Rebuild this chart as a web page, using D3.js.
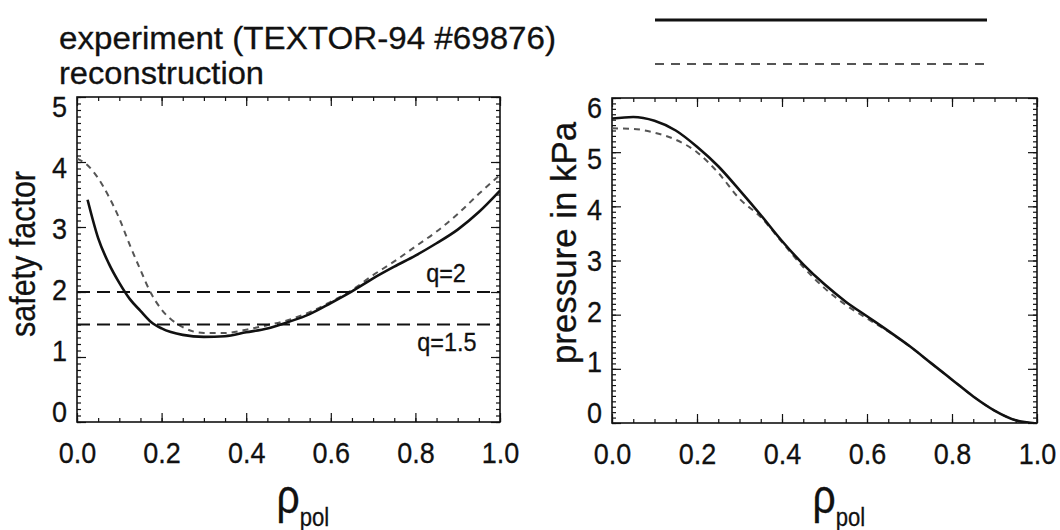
<!DOCTYPE html>
<html lang="en">
<head>
<meta charset="UTF-8">
<title>q and pressure profiles</title>
<script src="https://d3js.org/d3.v7.min.js"></script>
<style>
body { margin: 0; background: #fff; }
svg text { font-family: 'Liberation Sans', Arial, Helvetica, sans-serif; fill: #111; stroke: #111; stroke-width: 0.3px; }
.frame { fill: none; stroke: #111; stroke-width: 1.6px; }
.tick line { stroke: #111; stroke-width: 1.2px; }
.exp { fill: none; stroke: #111; stroke-width: 2.6px; }
.rec { fill: none; stroke: #555; stroke-width: 2px; stroke-dasharray: 6,5; }
.qline { stroke: #111; stroke-width: 2px; stroke-dasharray: 13,7; }
/* the original lettering is a narrow Helvetica */
.narrow-mid { transform-box: fill-box; transform-origin: 50% 50%; transform: scaleX(0.9); }
.narrow-end { transform-box: fill-box; transform-origin: 100% 50%; transform: scaleX(0.9); }
</style>
</head>
<body>
<svg width="1060" height="530"></svg>
<script>
// safety factor profile
var rhoQ = [0, .025, .05, .075, .1, .125, .15, .175, .2, .25, .3, .35, .4, .45, .5, .55, .6, .65, .7, .75, .8, .85, .9, .95, 1.0];
var qExp = [null, 3.42, 2.83, 2.44, 2.14, 1.89, 1.71, 1.54, 1.44, 1.34, 1.31, 1.32, 1.38, 1.44, 1.54, 1.66, 1.83, 2.01, 2.21, 2.39, 2.56, 2.75, 2.96, 3.23, 3.56];
var qRec = [4.05, 3.95, 3.75, 3.47, 3.13, 2.72, 2.34, 1.98, 1.73, 1.46, 1.37, 1.37, 1.42, 1.49, 1.57, 1.69, 1.85, 2.03, 2.26, 2.47, 2.70, 2.93, 3.20, 3.51, 3.80];
var qRef = [2, 1.5];
var qRefLabels = ["q=2", "q=1.5"];

// pressure profile (kPa)
var rhoP = [0, .05, .1, .15, .2, .25, .3, .35, .4, .45, .5, .55, .6, .65, .7, .75, .8, .85, .9, .95, 1.0];
var pExp = [5.62, 5.65, 5.58, 5.40, 5.10, 4.74, 4.30, 3.84, 3.36, 2.93, 2.56, 2.24, 1.97, 1.70, 1.42, 1.11, 0.80, 0.49, 0.23, 0.05, -0.01];
var pRec = [5.44, 5.43, 5.36, 5.23, 5.00, 4.62, 4.14, 3.80, 3.34, 2.88, 2.49, 2.18, 1.93, 1.69, 1.42, 1.11, 0.80, 0.49, 0.23, 0.05, -0.01];

var xTicks = [0, .2, .4, .6, .8, 1.0];
var legendLabels = ["experiment (TEXTOR-94 #69876)", "reconstruction"];

var svg = d3.select("svg");

// title + legend
svg.selectAll("text.legend")
    .data(legendLabels)
    .enter().append("text")
    .attr("class", "legend")
    .attr("x", 59)
    .attr("y", function(d, i) { return 49 + i * 35; })
    .attr("textLength", function(d, i) { return i === 0 ? 497 : 205; })
    .attr("lengthAdjust", "spacingAndGlyphs")
    .style("font-size", "31px")
    .text(function(d) { return d; });

svg.append("line").attr("class", "exp")
    .attr("x1", 655).attr("x2", 987).attr("y1", 20).attr("y2", 20)
    .style("stroke-width", "3px");
svg.append("line").attr("class", "rec")
    .attr("x1", 655).attr("x2", 987).attr("y1", 64).attr("y2", 64)
    .style("stroke-dasharray", "9,7");

function panel(box, yMax, yMinor, ylabel, rho, a, b) {
    var g = svg.append("g");
    var x = d3.scaleLinear().domain([0, 1]).range([box.x0, box.x1]);
    var y = d3.scaleLinear().domain([0, yMax]).range([box.y1, box.y0]);
    var midY = (box.y0 + box.y1) / 2;

    var clipId = "clip" + box.x0;
    g.append("clipPath").attr("id", clipId)
        .append("rect")
        .attr("x", box.x0).attr("y", box.y0)
        .attr("width", box.x1 - box.x0).attr("height", box.y1 - box.y0);

    var minorX = d3.range(0, 1.0001, 0.05);
    var minorY = d3.range(0, yMax + 0.0001, yMinor);
    var majorY = d3.range(0, yMax + 1);

    // minor ticks, all four sides
    g.append("g").attr("transform", "translate(0," + box.y1 + ")")
        .call(d3.axisBottom(x).tickValues(minorX).tickSize(-4).tickFormat(""));
    g.append("g").attr("transform", "translate(0," + box.y0 + ")")
        .call(d3.axisTop(x).tickValues(minorX).tickSize(-4).tickFormat(""));
    g.append("g").attr("transform", "translate(" + box.x0 + ",0)")
        .call(d3.axisLeft(y).tickValues(minorY).tickSize(-4).tickFormat(""));
    g.append("g").attr("transform", "translate(" + box.x1 + ",0)")
        .call(d3.axisRight(y).tickValues(minorY).tickSize(-4).tickFormat(""));

    // major ticks + labels
    g.append("g").attr("transform", "translate(0," + box.y1 + ")")
        .call(d3.axisBottom(x).tickValues(xTicks).tickSize(-9).tickPadding(20).tickFormat(d3.format(".1f")))
        .selectAll("text")
        .attr("class", "narrow-mid")
        .style("font-size", "30px");
    g.append("g").attr("transform", "translate(0," + box.y0 + ")")
        .call(d3.axisTop(x).tickValues(xTicks).tickSize(-9).tickFormat(""));
    var ya = g.append("g").attr("transform", "translate(" + box.x0 + ",0)")
        .call(d3.axisLeft(y).tickValues(majorY).tickSize(-9).tickPadding(10).tickFormat(d3.format("d")));
    ya.selectAll("text")
        .attr("class", "narrow-end")
        .style("font-size", "30px")
        .attr("y", function(d) { return (midY - y(d)) * 0.06; });
    g.append("g").attr("transform", "translate(" + box.x1 + ",0)")
        .call(d3.axisRight(y).tickValues(majorY).tickSize(-9).tickFormat(""));

    g.selectAll(".domain").remove();

    g.append("rect").attr("class", "frame")
        .attr("x", box.x0).attr("y", box.y0)
        .attr("width", box.x1 - box.x0).attr("height", box.y1 - box.y0);

    // axis titles
    g.append("text")
        .attr("transform", "translate(" + box.lx + "," + box.ly + ") rotate(-90)")
        .attr("text-anchor", "middle")
        .attr("textLength", box.llen)
        .attr("lengthAdjust", "spacingAndGlyphs")
        .style("font-size", "35px")
        .text(ylabel);

    var xt = g.append("text")
        .attr("transform", "translate(" + ((box.x0 + box.x1) / 2 - 12) + ",513) scale(0.85,1)")
        .style("font-size", "48px");
    xt.append("tspan").text("ρ");
    xt.append("tspan").attr("dy", 13).style("font-size", "26px").text("pol");

    var line = function(vals) {
        return d3.line()
            .defined(function(d, i) { return vals[i] != null; })
            .x(function(d) { return x(d); })
            .y(function(d, i) { return y(vals[i]); })
            .curve(d3.curveMonotoneX)(rho);
    };

    var plot = g.append("g").attr("clip-path", "url(#" + clipId + ")");
    plot.append("path").attr("class", "rec").attr("d", line(b));
    plot.append("path").attr("class", "exp").attr("d", line(a));

    return { g: g, x: x, y: y };
}

var left = panel({ x0: 77, x1: 500, y0: 97, y1: 422, lx: 35, ly: 254, llen: 166 },
    5, 0.1, "safety factor", rhoQ, qExp, qRec);

left.g.selectAll("line.qline")
    .data(qRef)
    .enter().append("line")
    .attr("class", "qline")
    .attr("x1", left.x(0)).attr("x2", left.x(1))
    .attr("y1", function(d) { return left.y(d); })
    .attr("y2", function(d) { return left.y(d); });

left.g.selectAll("text.qlab")
    .data(qRefLabels)
    .enter().append("text")
    .attr("class", "qlab narrow-mid")
    .attr("x", function(d, i) { return i === 0 ? 424 : 414; })
    .attr("y", function(d, i) { return i === 0 ? left.y(qRef[0]) - 10 : left.y(qRef[1]) + 27; })
    .style("font-size", "26px")
    .text(function(d) { return d; });

panel({ x0: 612, x1: 1037, y0: 98, y1: 423, lx: 576, ly: 243, llen: 242 },
    6, 0.1, "pressure in kPa", rhoP, pExp, pRec);
</script>
</body>
</html>
